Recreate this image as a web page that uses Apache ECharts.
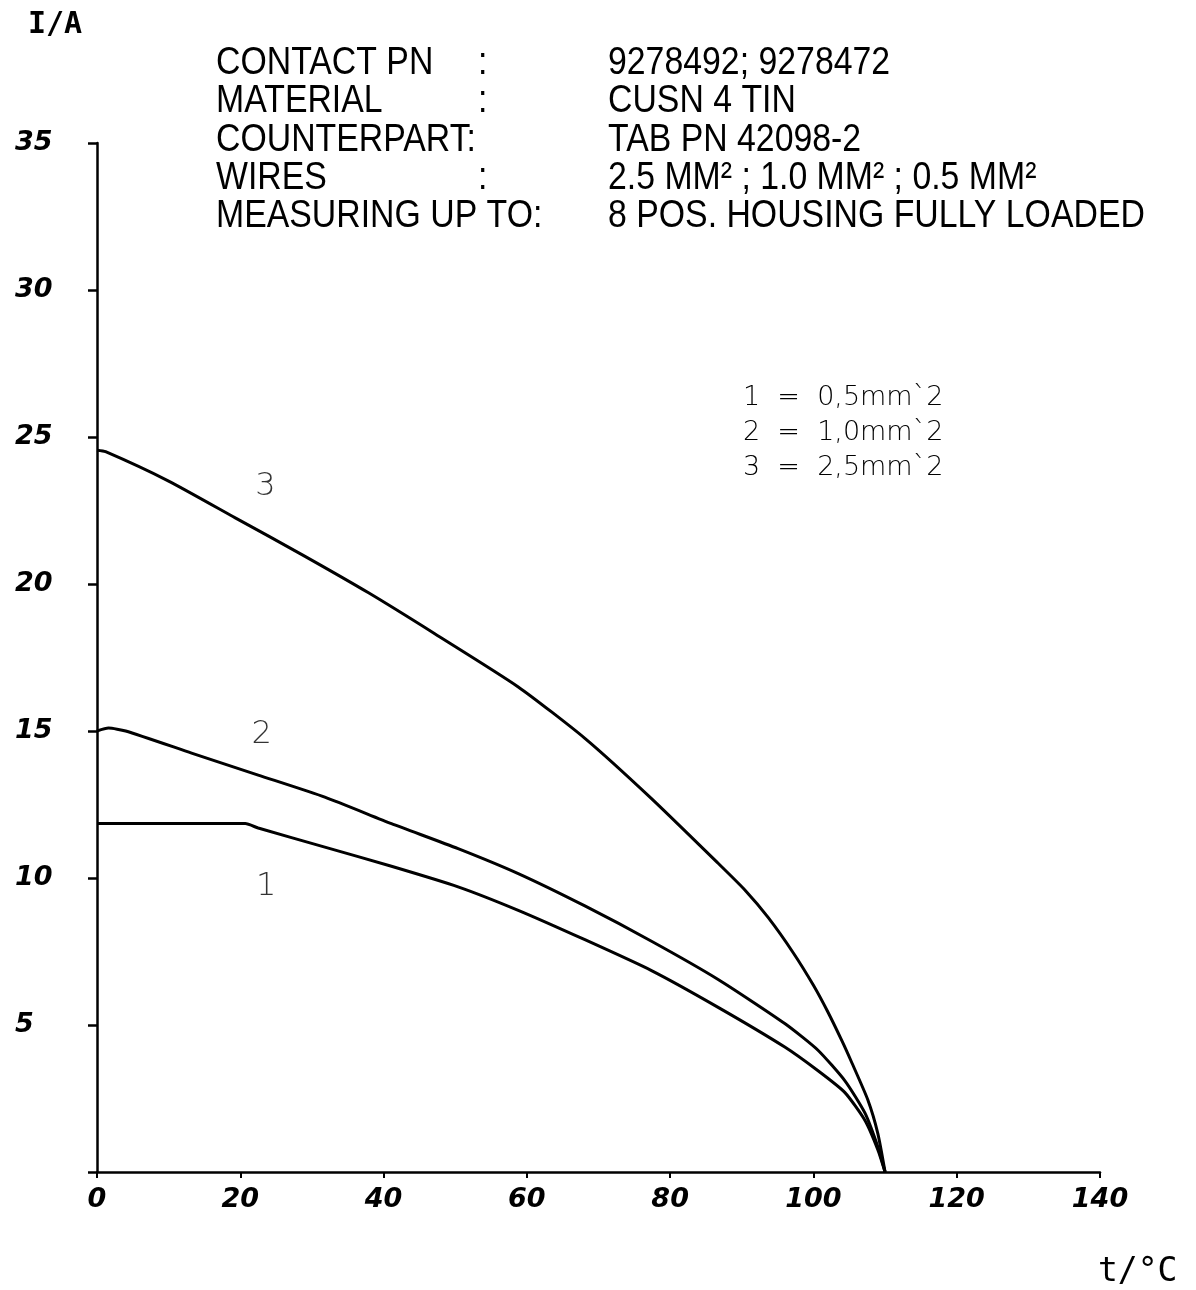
<!DOCTYPE html>
<html>
<head>
<meta charset="utf-8">
<script src="https://cdn.jsdelivr.net/npm/echarts@6/dist/echarts.min.js"></script>
<style>html,body{margin:0;padding:0;background:#fff;}#c{width:1196px;height:1290px;}</style>
</head>
<body>
<div id="c"></div>
<script>
// Curve 1 = 0,5mm^2
const t1 = [0, 20.7, 22.5, 31.8, 41.1, 50.4, 58.8, 68.1, 77.4, 86.7, 96, 100.6, 104.4, 107.2, 109, 110];
const i1 = [11.85, 11.85, 11.7, 11.05, 10.4, 9.7, 8.9, 7.9, 6.85, 5.6, 4.25, 3.45, 2.7, 1.75, 0.75, 0];
// Curve 2 = 1,0mm^2
const t2 = [0, 1.6, 4, 13.2, 22.5, 31.8, 41.1, 50.4, 58.8, 68.1, 77.4, 86.7, 96, 100.6, 104.4, 107.2, 109, 110];
const i2 = [15.0, 15.1, 15.0, 14.25, 13.5, 12.75, 11.85, 11.0, 10.15, 9.05, 7.85, 6.55, 5.05, 4.15, 3.1, 2.0, 0.85, 0];
// Curve 3 = 2,5mm^2
const t3 = [0, 1.2, 10, 19.3, 28.6, 37.9, 47.2, 58.8, 68.1, 77.4, 86.7, 90.4, 93.7, 97.2, 100, 102, 104, 105.3, 107.6, 109, 110];
const i3 = [24.55, 24.5, 23.5, 22.25, 21.0, 19.7, 18.3, 16.5, 14.75, 12.7, 10.5, 9.6, 8.65, 7.45, 6.35, 5.45, 4.45, 3.75, 2.45, 1.3, 0];

const curveNames = ['1', '2', '3'];
const curveLabelPos = [[23.6, 9.7], [23.0, 14.86], [23.5, 23.3]];

const xTicks = [0, 20, 40, 60, 80, 100, 120, 140];
const yTicks = [5, 10, 15, 20, 25, 30, 35];

const headerLeft = ['CONTACT PN', 'MATERIAL', 'COUNTERPART:', 'WIRES', 'MEASURING UP TO:'];
const headerColon = [':', ':', '', ':', ''];
const headerRight = ['9278492; 9278472', 'CUSN 4 TIN', 'TAB PN 42098-2', '2.5 MM\u00B2 ; 1.0 MM\u00B2 ; 0.5 MM\u00B2', '8 POS. HOUSING FULLY LOADED'];
const legendLines = ['1  =  0,5mm`2', '2  =  1,0mm`2', '3  =  2,5mm`2'];

const chart = echarts.init(document.getElementById('c'));
const pairs = (t, v) => t.map((x, k) => [x, v[k]]);
const axisFont = {fontFamily: 'DejaVu Sans', fontWeight: 'bold', fontStyle: 'italic', fontSize: 27, color: '#000'};

const graphic = [];
const rowY = [64, 102, 141, 179, 217];
const hdrStyle = s => ({text: s, fontFamily: 'Liberation Sans', fontSize: 38, fill: '#000', verticalAlign: 'middle'});
headerLeft.forEach((s, k) => {
  graphic.push({type: 'text', x: 216, y: rowY[k], scaleX: 0.89, style: hdrStyle(s)});
  if (headerColon[k]) graphic.push({type: 'text', x: 478, y: rowY[k], scaleX: 0.89, style: hdrStyle(headerColon[k])});
  graphic.push({type: 'text', x: 608, y: rowY[k], scaleX: 0.89, style: hdrStyle(headerRight[k])});
});
legendLines.forEach((s, k) => {
  graphic.push({type: 'text', x: 743, y: 398 + k * 35, style: {text: s, fontFamily: 'DejaVu Sans', fontWeight: 200, fontSize: 27, fill: '#000', verticalAlign: 'middle'}});
});
graphic.push({type: 'text', x: 28, y: 25, style: {text: 'I/A', fontFamily: 'DejaVu Sans Mono', fontWeight: 'bold', fontSize: 30, fill: '#000', verticalAlign: 'middle'}});
graphic.push({type: 'text', x: 1098, y: 1272, style: {text: 't/\u00B0C', fontFamily: 'DejaVu Sans Mono', fontSize: 33, fill: '#000', verticalAlign: 'middle'}});

const lineStyle = {color: '#000', width: 3};
const series = [[t1, i1], [t2, i2], [t3, i3]].map(([t, v], k) => ({
  type: 'line', name: curveNames[k], data: pairs(t, v), showSymbol: false, symbol: 'none',
  smooth: 0.2, lineStyle: lineStyle, z: 3
}));
series.push({
  type: 'scatter', symbolSize: 0, data: curveLabelPos.map((p, k) => ({value: p, name: curveNames[k]})),
  label: {show: true, position: 'inside', formatter: p => p.name, fontFamily: 'DejaVu Sans', fontWeight: 200, fontSize: 32, color: '#000'},
  silent: true
});

const axLine = {show: true, onZero: false, lineStyle: {color: '#000', width: 2.5}};
chart.setOption({
  animation: false,
  backgroundColor: '#fff',
  grid: {left: 97, right: 96, top: 143, bottom: 118, containLabel: false},
  xAxis: {type: 'value', min: 0, max: 140, interval: 20, position: 'bottom',
     axisLine: axLine,
     axisTick: {show: true, inside: false, length: 6, lineStyle: {color: '#000', width: 2}},
     axisLabel: Object.assign({margin: 14, formatter: v => xTicks.includes(v) ? String(v) : ''}, axisFont),
     splitLine: {show: false}},
  yAxis: {type: 'value', min: 0, max: 35, interval: 5, position: 'left',
     axisLine: axLine,
     axisTick: {show: true, inside: false, length: 9, lineStyle: {color: '#000', width: 2.5}},
     axisLabel: Object.assign({margin: 82, align: 'left', formatter: v => yTicks.includes(v) ? String(v) : ''}, axisFont),
     splitLine: {show: false}},
  graphic: graphic,
  series: series
});
</script>
</body>
</html>
